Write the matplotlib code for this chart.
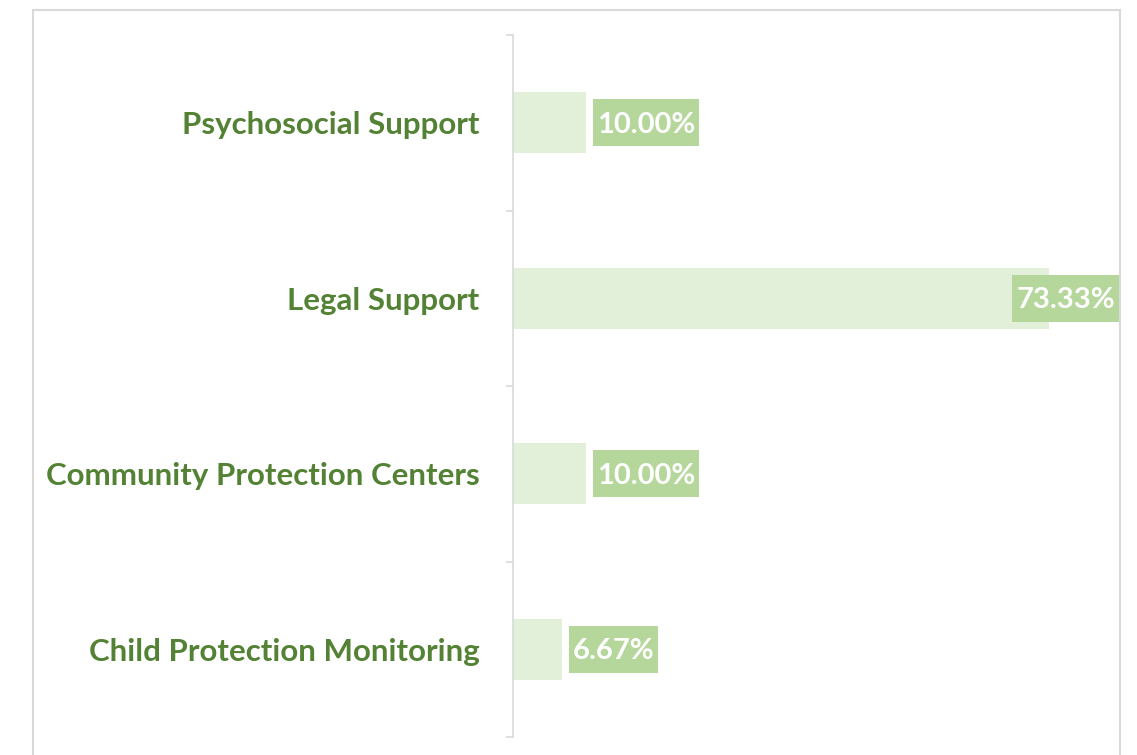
import matplotlib
matplotlib.use("Agg")
import matplotlib.pyplot as plt
from matplotlib.patches import Rectangle
from matplotlib.transforms import IdentityTransform

categories = ["Psychosocial Support", "Legal Support",
              "Community Protection Centers", "Child Protection Monitoring"]
values = [10.00, 73.33, 10.00, 6.67]
labels = ["10.00%", "73.33%", "10.00%", "6.67%"]

W, H = 1137, 755
fig = plt.figure(figsize=(W / 100, H / 100), dpi=100)

frame_right = 1120
fig.patches.append(Rectangle((33 / W, -0.01), (frame_right - 33) / W, (755 - 10) / H + 0.01,
                             transform=fig.transFigure, fill=False,
                             edgecolor="#d9d9d9", linewidth=1.5))

left = 513 / W
bottom = 18 / H
height = (737 - 35) / H
xmax = 80.0
width = (xmax * 7.31) / W
ax = fig.add_axes([left, bottom, width, height])

y = list(range(len(categories)))
ax.barh(y, values, height=0.35, color="#e2f0d9", zorder=2)

anns = []
for yi, v, lab in zip(y, values, labels):
    a = ax.annotate(lab, xy=(v, yi), xytext=(8, -1.5), textcoords="offset points",
                    ha="left", va="center", color="white", fontsize=21,
                    fontweight="bold", family="Lato",
                    annotation_clip=False, zorder=4)
    anns.append(a)

ax.set_xlim(0, xmax)
ax.set_ylim(len(categories) - 0.5, -0.5)

for s in ["top", "right", "bottom"]:
    ax.spines[s].set_visible(False)
ax.spines["left"].set_color("#d9d9d9")
ax.spines["left"].set_linewidth(1.2)
ax.set_xticks([])

ax.set_yticks(y)
ax.set_yticklabels(categories, fontsize=22.5, fontweight="bold",
                   color="#548235", family="Lato")
ax.tick_params(axis="y", which="major", length=0, pad=24)
ax.set_yticks([i - 0.5 for i in range(len(categories) + 1)], minor=True)
ax.tick_params(axis="y", which="minor", length=5, color="#d9d9d9", width=1.2)

# keep labels inside the frame and draw label boxes behind them
fig.canvas.draw()
r = fig.canvas.get_renderer()
padx = 4
box_h = 47
for a, yi in zip(anns, y):
    bb = a.get_window_extent(r)
    if bb.x1 + padx > frame_right - 1:
        shift_px = bb.x1 + padx - (frame_right - 1)
        off = a.xyann
        a.xyann = (off[0] - shift_px * 72 / fig.dpi, off[1])
        fig.canvas.draw()
        bb = a.get_window_extent(r)
    cy = ax.transData.transform((0, yi))[1]
    rect = Rectangle((bb.x0 - padx, cy - box_h / 2), bb.width + 2 * padx, box_h,
                     transform=IdentityTransform(), facecolor="#b5d79b",
                     edgecolor="none", zorder=3, clip_on=False)
    ax.add_patch(rect)

fig.savefig("out.png", dpi=100)
